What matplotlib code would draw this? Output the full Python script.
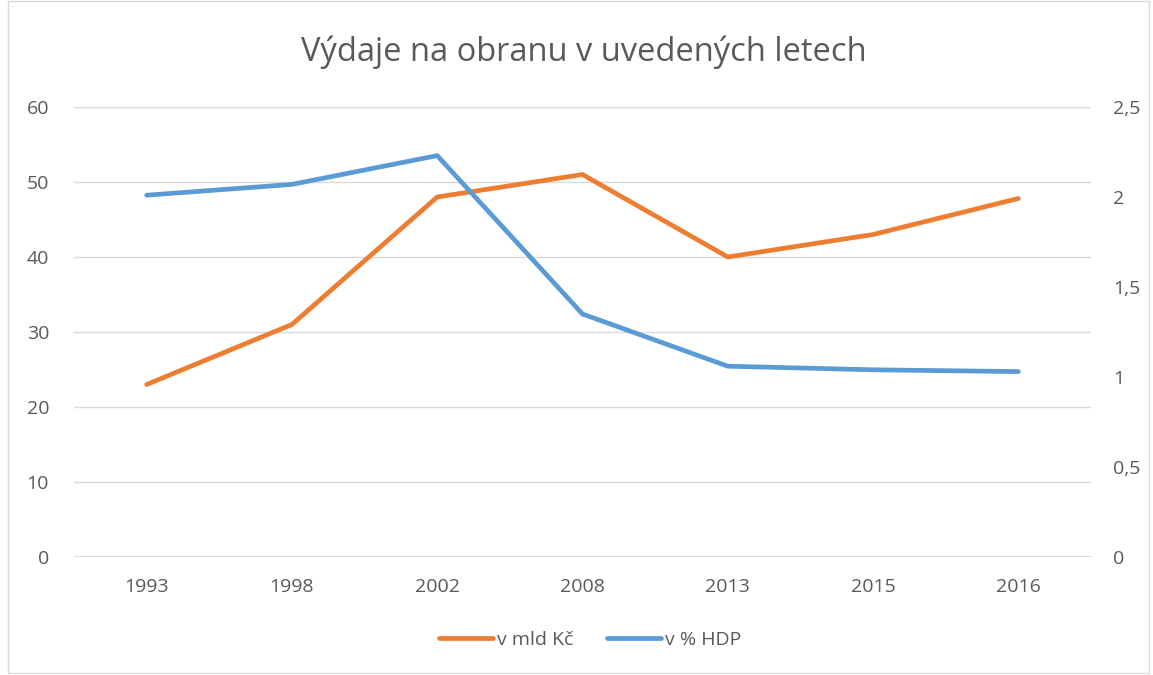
import matplotlib
matplotlib.use("Agg")
import matplotlib.pyplot as plt
from matplotlib.patches import Rectangle
from matplotlib.lines import Line2D

years = ["1993", "1998", "2002", "2008", "2013", "2015", "2016"]
mld_kc = [23, 31, 48, 51, 40, 43, 47.8]
pct_hdp = [2.01, 2.07, 2.23, 1.35, 1.06, 1.04, 1.03]
left_ticks = [0, 10, 20, 30, 40, 50, 60]
right_ticks = [0, 0.5, 1, 1.5, 2, 2.5]
right_labels = ["0", "0,5", "1", "1,5", "2", "2,5"]

title = "Výdaje na obranu v uvedených letech"
name_a = "v mld Kč"
name_b = "v % HDP"

plt.rcParams['font.family'] = ['Open Sans', 'DejaVu Sans']
txt = "#595959"
orange = "#ED7D31"
blue = "#5B9BD5"
fs = 14

fig = plt.figure(figsize=(11.53, 6.75), dpi=100)
fig.patches.append(Rectangle((8/1153, 2/675), 1141/1153, 672/675, transform=fig.transFigure,
                             fill=False, edgecolor="#D9D9D9", linewidth=1))

ax = fig.add_axes([74/1153, 1-557/675, 1017/1153, 450/675])
x = list(range(len(years)))
ax.set_xlim(-0.5, len(years)-0.5)
ax.set_ylim(0, 60)
ax.set_yticks(left_ticks)
ax.grid(axis='y', color="#D9D9D9", linewidth=1)
ax.set_axisbelow(True)
for s in ax.spines.values():
    s.set_visible(False)
ax.tick_params(length=0, colors=txt, labelsize=fs)
ax.tick_params(axis='x', pad=15)
ax.tick_params(axis='y', pad=18)
ax.set_xticks(x)
ax.set_xticklabels(years)
ax.axhline(0, color="#D9D9D9", linewidth=1.2)

ax.plot(x, mld_kc, color=orange, linewidth=3.4, solid_capstyle='round', solid_joinstyle='round', zorder=3)

ax2 = ax.twinx()
ax2.set_ylim(0, 2.5)
ax2.set_yticks(right_ticks)
ax2.set_yticklabels(right_labels)
for s in ax2.spines.values():
    s.set_visible(False)
ax2.tick_params(length=0, colors=txt, labelsize=fs, pad=16)
ax2.plot(x, pct_hdp, color=blue, linewidth=3.4, solid_capstyle='round', solid_joinstyle='round', zorder=3)

fig.text(584/1153, 1-52/675, title, ha='center', va='center', fontsize=23.5, color=txt)

handles = [Line2D([], [], color=orange, linewidth=3.4, solid_capstyle='round'),
           Line2D([], [], color=blue, linewidth=3.4, solid_capstyle='round')]
leg = fig.legend(handles, [name_a, name_b], loc='center', bbox_to_anchor=(590/1153, 1-640/675),
                 ncol=2, frameon=False, fontsize=fs, handlelength=2.8, handletextpad=0.2,
                 columnspacing=1.7)
for t in leg.get_texts():
    t.set_color(txt)

fig.savefig("out.png", dpi=100)
